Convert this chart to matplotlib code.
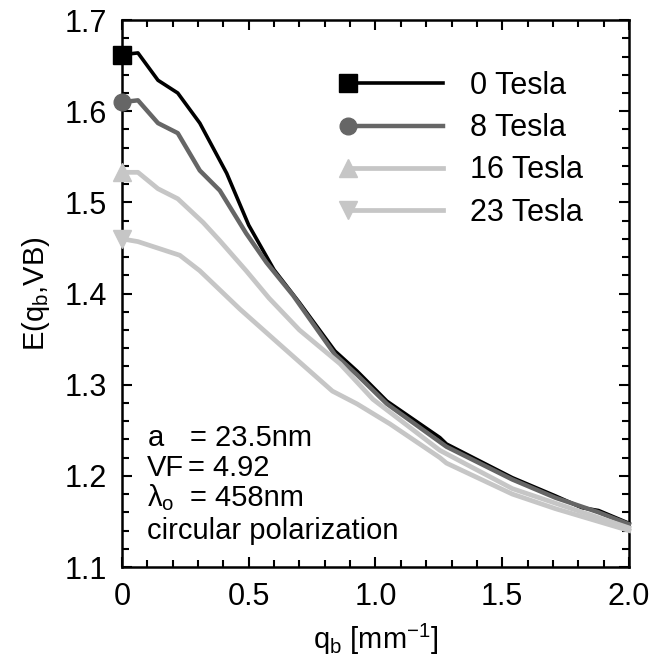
import numpy as np
import matplotlib
matplotlib.use('Agg')
import matplotlib.pyplot as plt
from matplotlib.ticker import MultipleLocator
from matplotlib.legend_handler import HandlerLine2D

plt.rcParams['font.family'] = ['Liberation Sans', 'DejaVu Sans']
plt.rcParams['mathtext.default'] = 'regular'

# E(q_b, VB) curves
q_0T = [0.0, 0.063, 0.142, 0.22, 0.307, 0.413, 0.5, 0.6, 0.7, 0.84, 0.927, 1.045,
        1.254, 1.28, 1.54, 1.71, 1.815, 1.88, 2.0]
e_0T = [1.662, 1.664, 1.634, 1.62, 1.587, 1.532, 1.475, 1.426, 1.39, 1.337, 1.315, 1.282,
        1.242, 1.235, 1.198, 1.178, 1.165, 1.162, 1.148]

q_8T = [0.0, 0.063, 0.142, 0.22, 0.307, 0.386, 0.49, 0.57, 0.675, 0.84, 0.927, 1.045, 1.28,
        1.54, 1.71, 1.88, 2.0]
e_8T = [1.61, 1.612, 1.587, 1.576, 1.535, 1.513, 1.466, 1.434, 1.398, 1.333, 1.311, 1.279, 1.232,
        1.196, 1.176, 1.16, 1.147]

q_16T = [0.0, 0.063, 0.142, 0.22, 0.32, 0.386, 0.49, 0.58, 0.7, 0.86, 0.99, 1.254, 1.54,
         1.71, 2.0]
e_16T = [1.533, 1.533, 1.515, 1.504, 1.478, 1.458, 1.425, 1.395, 1.36, 1.323, 1.284, 1.228,
         1.186, 1.170, 1.143]

q_23T = [0.0, 0.063, 0.228, 0.307, 0.465, 0.635, 0.83, 0.927, 1.057, 1.254, 1.28, 1.54,
         1.71, 2.0]
e_23T = [1.46, 1.457, 1.442, 1.425, 1.383, 1.341, 1.293, 1.279, 1.257, 1.22, 1.214, 1.18,
         1.164, 1.14]

labels = ['0 Tesla', '8 Tesla', '16 Tesla', '23 Tesla']
colors = ['#000000', '#666666', '#c6c6c6', '#c6c6c6']
markers = ['s', 'o', '^', 'v']
msizes = [13, 12, 13, 13]
widths = [2.6, 3.2, 3.4, 3.4]


class LeftMarker(HandlerLine2D):
    # put the legend marker at the left end of the line
    def create_artists(self, *args, **kwargs):
        arts = super().create_artists(*args, **kwargs)
        for a in arts:
            a.set_markevery([0])
        return arts


fig = plt.figure(figsize=(6.53, 6.70), dpi=100)
ax = fig.add_axes([0.1868, 0.1537, 0.7764, 0.8163])

series = [(q_0T, e_0T), (q_8T, e_8T), (q_16T, e_16T), (q_23T, e_23T)]
handles = []
for (q, e), lab, c, m, ms, w in zip(series, labels, colors, markers, msizes, widths):
    ln, = ax.plot(q, e, color=c, lw=w, marker=m, markevery=[0], markersize=ms,
                  markeredgecolor=c, markerfacecolor=c, label=lab, clip_on=False,
                  zorder=3, solid_joinstyle='round')
    handles.append(ln)

ax.set_xlim(0, 2.0)
ax.set_ylim(1.1, 1.7)
ax.xaxis.set_major_locator(MultipleLocator(0.5))
ax.xaxis.set_minor_locator(MultipleLocator(0.1))
ax.yaxis.set_major_locator(MultipleLocator(0.1))
ax.yaxis.set_minor_locator(MultipleLocator(0.02))
ax.set_xticks([0, 0.5, 1.0, 1.5, 2.0])
ax.set_xticklabels(['0', '0.5', '1.0', '1.5', '2.0'])
ax.tick_params(which='both', direction='in', top=True, right=True, labelsize=22, width=1.5)
ax.tick_params(which='major', length=7, pad=11)
ax.tick_params(which='minor', length=5)
for s in ax.spines.values():
    s.set_linewidth(1.8)

ax.set_xlabel(r'q$_b$ [mm$^{-1}$]', fontsize=21, labelpad=7)
ax.set_ylabel(r'E(q$_b$,VB)', fontsize=21, labelpad=9)

ax.legend(handles=handles, handler_map={h: LeftMarker() for h in handles},
          loc='upper left', bbox_to_anchor=(348 / 653, 1 - 71 / 670),
          bbox_transform=fig.transFigure, frameon=False, fontsize=22,
          handlelength=3.1, handletextpad=0.9, labelspacing=0.4,
          borderpad=0, borderaxespad=0)

# parameter block
fs = 21
ax.text(0.1, 1.233, 'a', fontsize=fs, va='baseline')
ax.text(0.268, 1.233, '= 23.5nm', fontsize=fs, va='baseline')
ax.text(0.1, 1.200, 'VF', fontsize=fs, va='baseline')
ax.text(0.262, 1.200, '= 4.92', fontsize=fs, va='baseline')
ax.text(0.1, 1.167, r'$\lambda_o$', fontsize=fs, va='baseline')
ax.text(0.268, 1.167, '= 458nm', fontsize=fs, va='baseline')
ax.text(0.1, 1.131, 'circular polarization', fontsize=fs, va='baseline')

fig.savefig('out.png', dpi=100)
